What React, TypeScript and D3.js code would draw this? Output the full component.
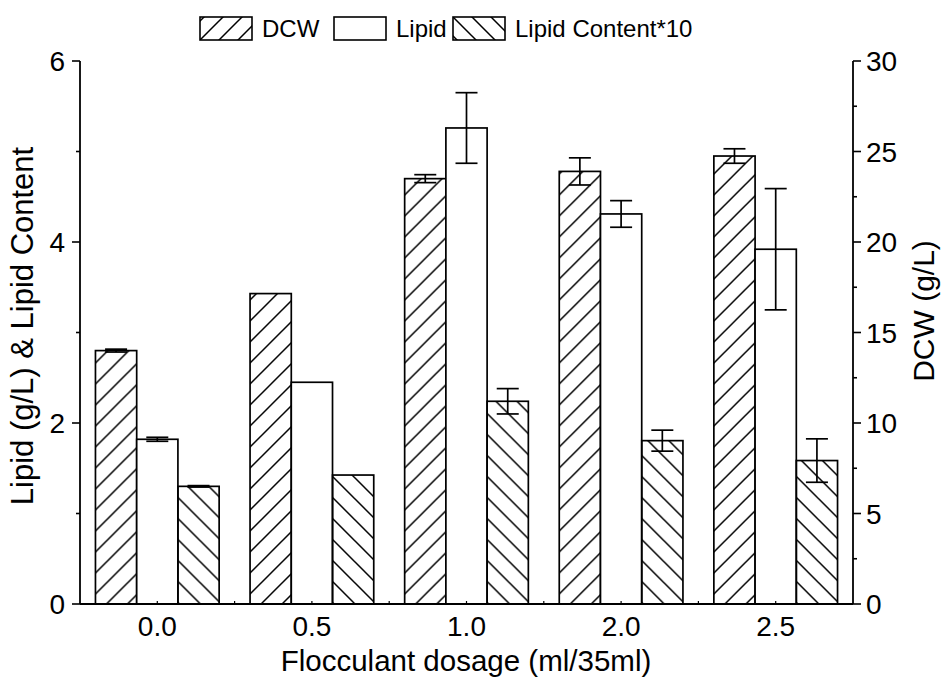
import React from "react";
import * as d3 from "d3";

const categories = ["0.0", "0.5", "1.0", "2.0", "2.5"];
const dcw = [14.0, 17.15, 23.5, 23.9, 24.75];
const dcwErr = [0.08, 0, 0.22, 0.75, 0.4];
const lipid = [1.82, 2.45, 5.26, 4.31, 3.92];
const lipidErr = [0.022, 0, 0.39, 0.147, 0.67];
const content = [1.3, 1.425, 2.24, 1.805, 1.585];
const contentErr = [0.008, 0, 0.14, 0.116, 0.24];
const leftTicks = [0, 2, 4, 6];
const leftMinor = [1, 3, 5];
const rightTicks = [0, 5, 10, 15, 20, 25, 30];
const rightMinor = [2.5, 7.5, 12.5, 17.5, 22.5, 27.5];
const seriesKeys = ["dcw", "lipid", "content"];
const legendLabels = ["DCW", "Lipid", "Lipid Content*10"];

const FONT = "'Liberation Sans', Arial, Helvetica, sans-serif";

export default function App() {
  const left = 80, right = 853, top = 61, bottom = 604;
  const x = d3.scaleBand<string>().domain(categories).range([left, right]).paddingInner(0.2).paddingOuter(0.1);
  const xs = d3.scaleBand<string>().domain(seriesKeys).range([0, x.bandwidth()]).padding(0);
  const yL = d3.scaleLinear().domain([0, 6]).range([bottom, top]);
  const yR = d3.scaleLinear().domain([0, 30]).range([bottom, top]);

  const step = x.step();
  const boundaries = d3.range(categories.length + 1).map((i) => left + i * step);

  const rows = categories.map((c, i) => ({
    c,
    bars: [
      { key: "dcw", y: yR(dcw[i]), e1: yR(dcw[i] + dcwErr[i]), e2: yR(dcw[i] - dcwErr[i]), err: dcwErr[i], fill: "url(#hatchF)" },
      { key: "lipid", y: yL(lipid[i]), e1: yL(lipid[i] + lipidErr[i]), e2: yL(lipid[i] - lipidErr[i]), err: lipidErr[i], fill: "#fff" },
      { key: "content", y: yL(content[i]), e1: yL(content[i] + contentErr[i]), e2: yL(content[i] - contentErr[i]), err: contentErr[i], fill: "url(#hatchB)" },
    ],
  }));

  const s = 21;
  const legendItems = [
    { x: 200, label: legendLabels[0], fill: "url(#hatchFL)" },
    { x: 334, label: legendLabels[1], fill: "#fff" },
    { x: 453, label: legendLabels[2], fill: "url(#hatchBL)" },
  ];

  return (
    <svg width={941} height={680} style={{ position: "absolute", left: 0, top: 0, background: "#fff" }} fontFamily={FONT}>
      <defs>
        <pattern id="hatchF" patternUnits="userSpaceOnUse" width={s} height={s} x={95} y={bottom}>
          <path d={`M0,${s} L${s},0 M-2,2 L2,-2 M${s - 2},${s + 2} L${s + 2},${s - 2}`} stroke="#000" strokeWidth={1.5} />
        </pattern>
        <pattern id="hatchB" patternUnits="userSpaceOnUse" width={s} height={s} x={0} y={bottom}>
          <path d={`M0,0 L${s},${s} M-2,${s - 2} L2,${s + 2} M${s - 2},-2 L${s + 2},2`} stroke="#000" strokeWidth={1.5} />
        </pattern>
        <pattern id="hatchFL" patternUnits="userSpaceOnUse" width={19} height={19} x={200} y={40}>
          <path d={`M0,19 L19,0 M-2,2 L2,-2 M17,21 L21,17`} stroke="#000" strokeWidth={1.5} />
        </pattern>
        <pattern id="hatchBL" patternUnits="userSpaceOnUse" width={19} height={19} x={453} y={17}>
          <path d={`M0,0 L19,19 M-2,17 L2,21 M17,-2 L21,2`} stroke="#000" strokeWidth={1.5} />
        </pattern>
      </defs>

      {/* bars */}
      {rows.map((r) => (
        <g key={r.c} transform={`translate(${x(r.c)},0)`}>
          {r.bars.map((b) => (
            <rect key={b.key} x={xs(b.key)} y={b.y} width={xs.bandwidth()} height={bottom - b.y} fill={b.fill} stroke="#000" strokeWidth={1.7} />
          ))}
          {r.bars.map((b) => {
            if (b.err <= 0) return null;
            const cx = (xs(b.key) as number) + xs.bandwidth() / 2;
            return (
              <g key={b.key + "e"} stroke="#000" strokeWidth={1.7}>
                <line x1={cx} x2={cx} y1={b.e1} y2={b.e2} />
                <line x1={cx - 11} x2={cx + 11} y1={b.e1} y2={b.e1} />
                <line x1={cx - 11} x2={cx + 11} y1={b.e2} y2={b.e2} />
              </g>
            );
          })}
        </g>
      ))}

      {/* x axis */}
      <line x1={left} x2={right} y1={bottom} y2={bottom} stroke="#000" strokeWidth={1.8} />
      {categories.map((c) => (
        <g key={c}>
          <line x1={(x(c) as number) + x.bandwidth() / 2} x2={(x(c) as number) + x.bandwidth() / 2} y1={bottom} y2={bottom - 3} stroke="#000" strokeWidth={1.2} />
          <text x={(x(c) as number) + x.bandwidth() / 2} y={636} textAnchor="middle" fontSize={28}>{c}</text>
        </g>
      ))}
      {boundaries.slice(1, -1).map((b, i) => (
        <line key={i} x1={b} x2={b} y1={bottom} y2={bottom - 3} stroke="#000" strokeWidth={1.2} />
      ))}
      <text x={466} y={671} textAnchor="middle" fontSize={29.5}>Flocculant dosage (ml/35ml)</text>

      {/* left axis */}
      <line x1={left} x2={left} y1={top} y2={bottom} stroke="#000" strokeWidth={1.8} />
      {leftTicks.map((t) => (
        <g key={t}>
          <line x1={left - 8} x2={left} y1={yL(t)} y2={yL(t)} stroke="#000" strokeWidth={1.6} />
          <text x={65} y={yL(t) + 10} textAnchor="end" fontSize={28}>{t}</text>
        </g>
      ))}
      {leftMinor.map((t) => (
        <line key={t} x1={left - 4} x2={left} y1={yL(t)} y2={yL(t)} stroke="#000" strokeWidth={1.6} />
      ))}
      <text transform={`translate(33,326) rotate(-90)`} textAnchor="middle" fontSize={31}>Lipid (g/L) &amp; Lipid Content</text>

      {/* right axis */}
      <line x1={right} x2={right} y1={top} y2={bottom} stroke="#000" strokeWidth={1.8} />
      {rightTicks.map((t) => (
        <g key={t}>
          <line x1={right} x2={right + 8} y1={yR(t)} y2={yR(t)} stroke="#000" strokeWidth={1.6} />
          <text x={866} y={yR(t) + 10} textAnchor="start" fontSize={28}>{t}</text>
        </g>
      ))}
      {rightMinor.map((t) => (
        <line key={t} x1={right} x2={right + 4} y1={yR(t)} y2={yR(t)} stroke="#000" strokeWidth={1.6} />
      ))}
      <text transform={`translate(934,311) rotate(-90)`} textAnchor="middle" fontSize={30}>DCW (g/L)</text>

      {/* legend */}
      {legendItems.map((l) => (
        <g key={l.label}>
          <rect x={l.x} y={17} width={52} height={23} fill={l.fill} stroke="#000" strokeWidth={1.6} />
          <text x={l.x + 62} y={37} fontSize={24}>{l.label}</text>
        </g>
      ))}
    </svg>
  );
}
